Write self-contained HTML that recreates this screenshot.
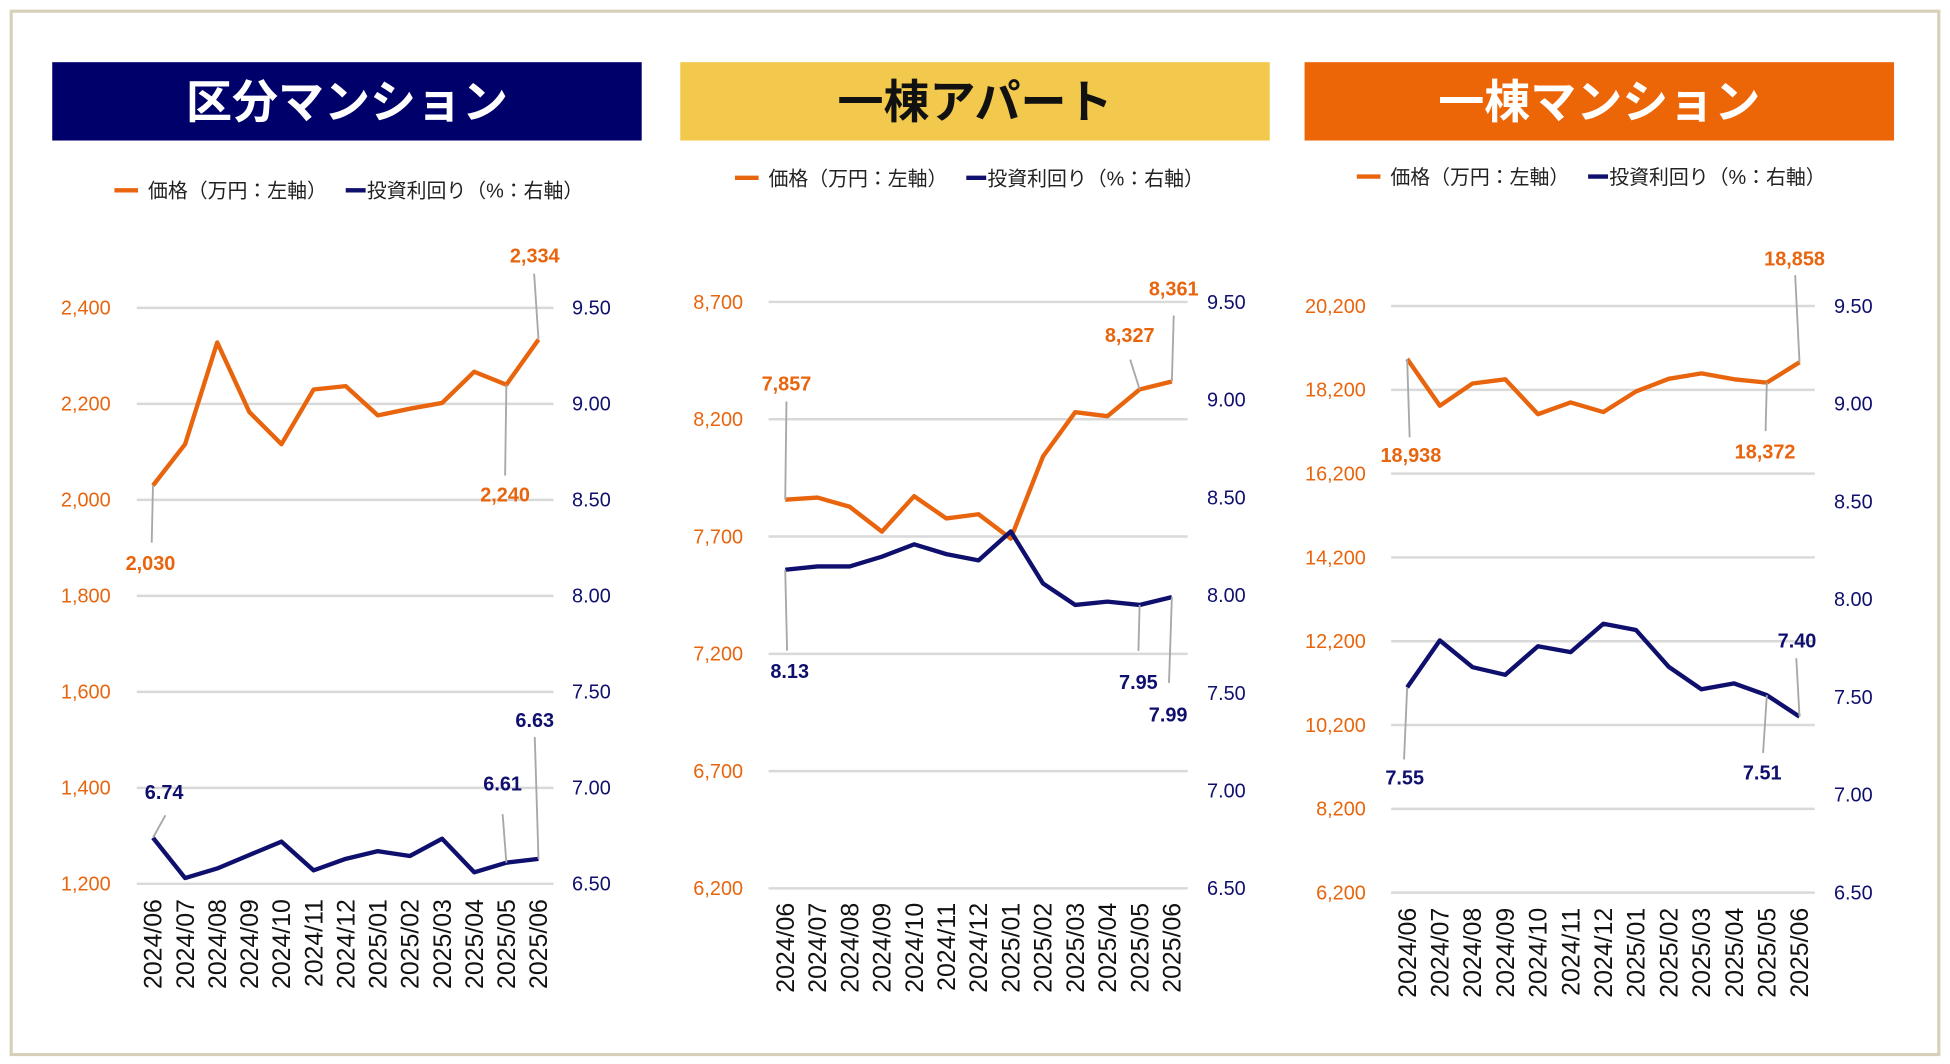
<!DOCTYPE html>
<html><head><meta charset="utf-8">
<style>
html,body{margin:0;padding:0;background:#fff;}
svg{display:block;font-family:"Liberation Sans","Noto Sans CJK JP",sans-serif;}
</style></head>
<body>
<svg id="root" width="1950" height="1064" viewBox="0 0 1568 855.6" preserveAspectRatio="none" xmlns="http://www.w3.org/2000/svg">
<rect x="9" y="9" width="1550" height="839" fill="#fff" stroke="#d8cfb9" stroke-width="2.5"/>
<rect x="42" y="50" width="474" height="63" fill="#00006a"/>
<text x="279" y="95" font-size="37" font-weight="bold" fill="#fff" text-anchor="middle">区分マンション</text>
<rect x="547" y="50" width="474" height="63" fill="#f2c94c"/>
<text x="784" y="95" font-size="37" font-weight="bold" fill="#111" text-anchor="middle">一棟アパート</text>
<rect x="1049" y="50" width="474" height="63" fill="#ec6608"/>
<text x="1286" y="95" font-size="37" font-weight="bold" fill="#fff" text-anchor="middle">一棟マンション</text>
<g id="charts"></g>
</svg>
<script>
const months = ["2024/06","2024/07","2024/08","2024/09","2024/10","2024/11","2024/12","2025/01","2025/02","2025/03","2025/04","2025/05","2025/06"];
const price1 = [2030,2116,2328,2183,2116,2230,2237,2176,2190,2202,2267,2240,2334];
const yield1 = [6.74,6.53,6.58,6.65,6.72,6.57,6.63,6.67,6.645,6.735,6.56,6.61,6.63];
const price2 = [7857,7866,7827,7721,7872,7777,7795,7691,8041,8230,8213,8327,8361];
const yield2 = [8.13,8.147,8.147,8.197,8.26,8.21,8.178,8.326,8.06,7.95,7.967,7.95,7.99];
const price3 = [18938,17820,18352,18452,17620,17900,17670,18162,18463,18593,18452,18372,18858];
const yield3 = [7.55,7.79,7.653,7.614,7.76,7.73,7.875,7.843,7.655,7.54,7.57,7.51,7.40];
const leftTicks1 = [1200,1400,1600,1800,2000,2200,2400];
const rightTicks1 = [6.5,7.0,7.5,8.0,8.5,9.0,9.5];
const leftTicks2 = [6200,6700,7200,7700,8200,8700];
const rightTicks2 = [6.5,7.0,7.5,8.0,8.5,9.0,9.5];
const leftTicks3 = [6200,8200,10200,12200,14200,16200,18200,20200];
const rightTicks3 = [6.5,7.0,7.5,8.0,8.5,9.0,9.5];

const NS="http://www.w3.org/2000/svg";
const ORANGE="#e8650e", NAVY="#0f0f6e", GRID="#d9d9d9", LEAD="#a8a8a8";
const root=document.getElementById('charts');
function el(tag,attrs,parent){const e=document.createElementNS(NS,tag);for(const k in attrs)e.setAttribute(k,attrs[k]);(parent||root).appendChild(e);return e;}
function fmtP(v){return Math.round(v).toLocaleString('en-US');}
function fmtY(v){return v.toFixed(2);}

const charts=[
 {key:'kubun',price:price1,yld:yield1,lt:leftTicks1,rt:rightTicks1,gx0:110,gx1:445,top:247.6,bot:710.7,px0:123,px1:433,llx:89,rlx:460,xly:723,legY:155,legX:92,
  pann:[{i:12,dx:-3,dy:-62,ex:-3.5,ey:-53},{i:11,dx:-1,dy:94,ex:-1,ey:73},{i:0,dx:-2,dy:68,ex:-1,ey:46}],
  yann:[{i:0,dx:9,dy:-31,ex:10,ey:-18},{i:11,dx:-3,dy:-58,ex:-3,ey:-39},{i:12,dx:-3,dy:-106,ex:-3,ey:-98}]},
 {key:'apart',price:price2,yld:yield2,lt:leftTicks2,rt:rightTicks2,gx0:618,gx1:955,top:242.8,bot:714.4,px0:631.4,px1:942.3,llx:597.5,rlx:970.6,xly:726,legY:145,legX:591,
  pann:[{i:0,dx:1,dy:-88,ex:1,ey:-79},{i:12,dx:1.5,dy:-69,ex:1.5,ey:-53},{i:11,dx:-8,dy:-38,ex:-7.6,ey:-24}],
  yann:[{i:0,dx:3.6,dy:87,ex:1.5,ey:65},{i:11,dx:-1,dy:67.5,ex:-1,ey:37},{i:12,dx:-3,dy:100,ex:-2.3,ey:69}]},
 {key:'mansion',price:price3,yld:yield3,lt:leftTicks3,rt:rightTicks3,gx0:1118.6,gx1:1459.2,top:246.1,bot:717.8,px0:1131.5,px1:1447,llx:1098.3,rlx:1474.7,xly:730,legY:144,legX:1091,
  pann:[{i:12,dx:-4,dy:-78,ex:-3.5,ey:-70},{i:0,dx:3,dy:83,ex:2,ey:63},{i:11,dx:-1.4,dy:61,ex:-1,ey:39}],
  yann:[{i:12,dx:-2,dy:-55.5,ex:-2.6,ey:-47},{i:0,dx:-2,dy:78,ex:-2.5,ey:58},{i:11,dx:-3.7,dy:68,ex:-3,ey:46.5}]}
];

charts.forEach(c=>{
  const g=el('g',{});
  
  
  const lmin=c.lt[0], lmax=c.lt[c.lt.length-1], rmin=c.rt[0], rmax=c.rt[c.rt.length-1];
  const yL=v=>c.bot-(v-lmin)/(lmax-lmin)*(c.bot-c.top);
  const yR=v=>c.bot-(v-rmin)/(rmax-rmin)*(c.bot-c.top);
  const n=months.length;
  const xS=i=>c.px0+i*(c.px1-c.px0)/(n-1);
  // legend
  const lg=el('g',{},g);
  
  
  const l1=el('line',{x1:c.legX,x2:c.legX+19,y1:c.legY-2,y2:c.legY-2,stroke:ORANGE,'stroke-width':3.5},lg);
  
  
  const t1=el('text',{x:c.legX+27,y:c.legY+4,'font-size':16,fill:'#222'},lg);
  
  
  t1.textContent='価格（万円：左軸）';
  const l2=el('line',{x1:c.legX+186,x2:c.legX+202,y1:c.legY-2,y2:c.legY-2,stroke:NAVY,'stroke-width':3.5},lg);
  
  
  const t2=el('text',{x:c.legX+203,y:c.legY+4,'font-size':16,fill:'#222'},lg);
  
  
  t2.textContent='投資利回り（%：右軸）';
  // grid & left ticks
  c.lt.forEach(v=>{
    const y=yL(v);
    const gl=el('line',{x1:c.gx0,x2:c.gx1,y1:y,y2:y,stroke:GRID,'stroke-width':2},g);
    
    
    const t=el('text',{x:c.llx,y:y+5.5,'font-size':16,fill:ORANGE,'text-anchor':'end'},g);
    
    
    t.textContent=fmtP(v);
  });
  c.rt.forEach(v=>{
    const y=yR(v);
    const t=el('text',{x:c.rlx,y:y+5.5,'font-size':16,fill:NAVY},g);
    
    
    t.textContent=fmtY(v);
  });
  months.forEach((m,i)=>{
    const x=xS(i)+7;
    const t=el('text',{x:x,y:c.xly,'font-size':20,fill:'#111','text-anchor':'end',transform:`rotate(-90 ${x} ${c.xly})`},g);
    
    
    t.textContent=m;
  });
  const pl=el('polyline',{points:c.price.map((v,i)=>xS(i)+','+yL(v)).join(' '),fill:'none',stroke:ORANGE,'stroke-width':3.5,'stroke-linejoin':'round'},g);
  
  
  const yl=el('polyline',{points:c.yld.map((v,i)=>xS(i)+','+yR(v)).join(' '),fill:'none',stroke:NAVY,'stroke-width':3.5,'stroke-linejoin':'round'},g);
  
  
  function ann(a,vals,ys,fmt,color,nm){
    const px=xS(a.i), py=ys(vals[a.i]);
    const ln=el('line',{x1:px,y1:py,x2:px+a.ex,y2:py+a.ey,stroke:LEAD,'stroke-width':1.5},g);
    
    
    const t=el('text',{x:px+a.dx,y:py+a.dy,'font-size':16,'font-weight':'bold',fill:color,'text-anchor':'middle'},g);
    
    
    t.textContent=fmt(vals[a.i]);
  }
  c.pann.forEach(a=>ann(a,c.price,yL,fmtP,ORANGE,'price'));
  c.yann.forEach(a=>ann(a,c.yld,yR,fmtY,NAVY,'yield'));
});
</script>
</body></html>
